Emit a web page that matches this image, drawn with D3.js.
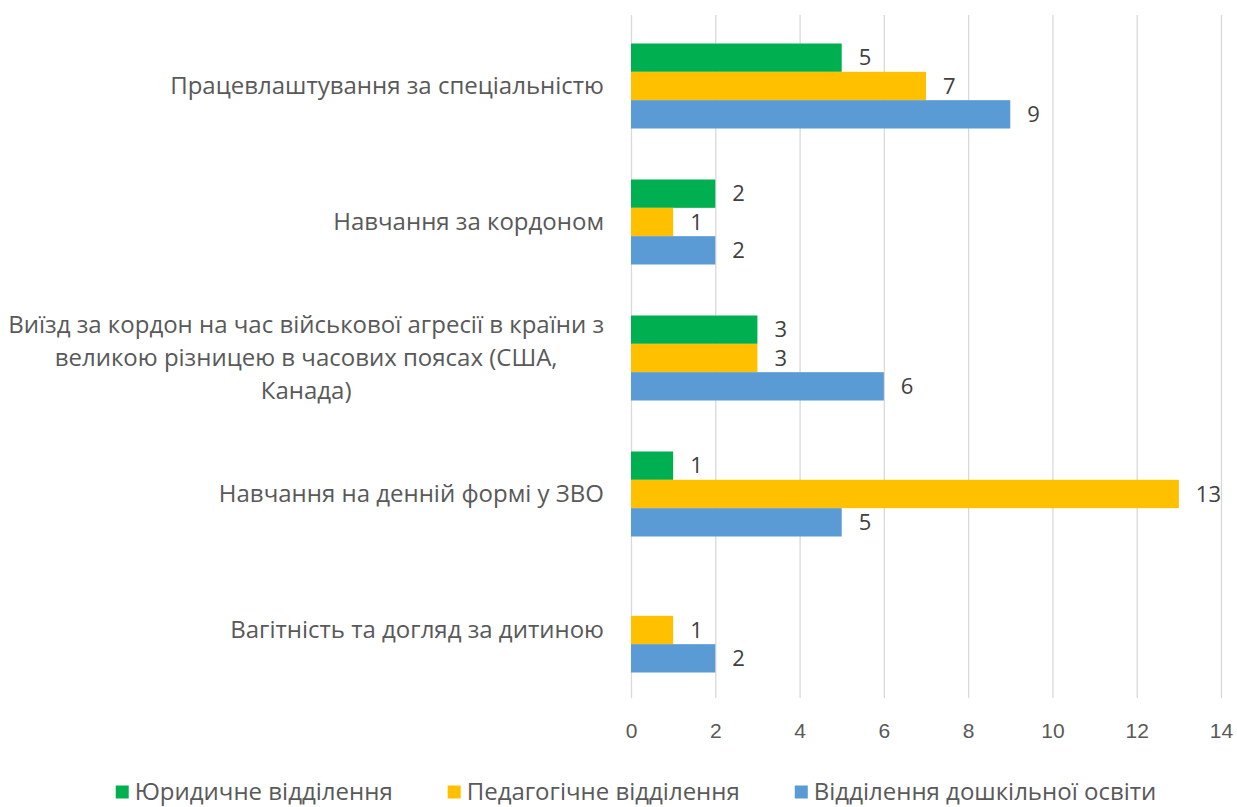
<!DOCTYPE html>
<html>
<head>
<meta charset="utf-8">
<script src="https://cdn.jsdelivr.net/npm/d3@7"></script>
<style>
  body { margin: 0; background: #fff; }
  svg { display: block; font-family: 'Open Sans', sans-serif; }
</style>
</head>
<body>
<svg id="chart" width="1237" height="807"></svg>
<script>
'use strict';

// categories, each split into its displayed lines
const categories = [
  'Працевлаштування за спеціальністю',
  'Навчання за кордоном',
  'Виїзд за кордон на час військової агресії в країни з великою різницею в часових поясах (США, Канада)',
  'Навчання на денній формі у ЗВО',
  'Вагітність та догляд за дитиною',
];
const categoryLines = [
  ['Працевлаштування за спеціальністю'],
  ['Навчання за кордоном'],
  ['Виїзд за кордон на час військової агресії в країни з', 'великою різницею в часових поясах (США,', 'Канада)'],
  ['Навчання на денній формі у ЗВО'],
  ['Вагітність та догляд за дитиною'],
];

const seriesNames = ['Юридичне відділення', 'Педагогічне відділення', 'Відділення дошкільної освіти'];
const lawValues = [5, 2, 3, 1, null];
const pedValues = [7, 1, 3, 13, 1];
const preschoolValues = [9, 2, 6, 5, 2];
const xTicks = [0, 2, 4, 6, 8, 10, 12, 14];

const colors = ['#00B050', '#FFC000', '#5B9BD5'];
const seriesValues = [lawValues, pedValues, preschoolValues];

const svg = d3.select('#chart');
const plot = { left: 631, right: 1221, top: 18, bottom: 698 };

const x = d3.scaleLinear().domain([0, 14]).range([plot.left, plot.right]);

const y = d3
  .scaleBand()
  .domain(categories)
  .range([plot.top, plot.bottom])
  .paddingInner(0.375)
  .paddingOuter(0.1875);

const ySub = d3
  .scaleBand()
  .domain(seriesNames)
  .range([0, y.bandwidth()]);

// gridlines + tick labels
const xAxis = d3
  .axisBottom(x)
  .tickValues(xTicks)
  .tickSize(-(plot.bottom - 15))
  .tickPadding(25);

svg
  .append('g')
  .attr('class', 'x axis')
  .attr('transform', 'translate(0,' + plot.bottom + ')')
  .call(xAxis)
  .call((g) => {
    g.select('.domain').remove();
    g.selectAll('line').attr('stroke', '#d9d9d9').attr('stroke-width', 1.3);
    g.selectAll('text')
      .attr('fill', '#595959')
      .style('font-size', '21px');
  });

// bars
const rows = [];
categories.forEach(function(c, i) {
  seriesNames.forEach(function(s, j) {
    rows.push({ cat: c, series: s, value: seriesValues[j][i], color: colors[j] });
  });
});
const drawn = rows.filter((d) => d.value !== null && d.value > 0);

svg
  .append('g')
  .selectAll('rect')
  .data(drawn)
  .enter()
  .append('rect')
  .attr('x', x(0))
  .attr('y', (d) => y(d.cat) + ySub(d.series))
  .attr('width', (d) => x(d.value) - x(0))
  .attr('height', ySub.bandwidth())
  .attr('fill', (d) => d.color);

// value labels
svg
  .append('g')
  .selectAll('text')
  .data(drawn)
  .enter()
  .append('text')
  .attr('x', (d) => x(d.value) + 17)
  .attr('y', (d) => y(d.cat) + ySub(d.series) + ySub.bandwidth() / 2)
  .attr('dy', '0.35em')
  .attr('fill', '#404040')
  .style('font-size', '22px')
  .text((d) => d.value);

// category labels
const catG = svg
  .append('g')
  .selectAll('g')
  .data(categories)
  .enter()
  .append('g');

catG.each(function(c, i) {
  const lines = categoryLines[i];
  const g = d3.select(this);
  const lh = 33;
  const cy = y(c) + y.bandwidth() / 2;
  const t = g
    .append('text')
    .attr('fill', '#595959')
    .style('font-size', '24px');
  lines.forEach(function(l, k) {
    t.append('tspan')
      .attr('y', cy + (k - (lines.length - 1) / 2) * lh)
      .attr('dy', '0.35em')
      .text(l);
  });
  // block right-aligned at axis, lines centred within the block
  let maxW = 0;
  t.selectAll('tspan').each(function() {
    maxW = Math.max(maxW, this.getComputedTextLength());
  });
  const right = 604;
  t.attr('text-anchor', 'middle');
  t.selectAll('tspan').attr('x', right - maxW / 2);
});

// legend
const legend = svg.append('g').attr('class', 'legend');
const items = legend
  .selectAll('g')
  .data(seriesNames)
  .enter()
  .append('g');

items
  .append('rect')
  .attr('width', 13)
  .attr('height', 13)
  .attr('y', -6.5)
  .attr('fill', (d, i) => colors[i]);

items
  .append('text')
  .attr('x', 19)
  .attr('dy', '0.35em')
  .attr('fill', '#595959')
  .style('font-size', '24px')
  .text((d) => d);

let widths = [];
items.each(function() {
  widths.push(19 + d3.select(this).select('text').node().getComputedTextLength());
});
const gap = 55;
const total = d3.sum(widths) + gap * (widths.length - 1);
let pos = 636 - total / 2;
items.attr('transform', function(d, i) {
  const tr = 'translate(' + pos + ',' + 792 + ')';
  pos += widths[i] + gap;
  return tr;
});
</script>
</body>
</html>
